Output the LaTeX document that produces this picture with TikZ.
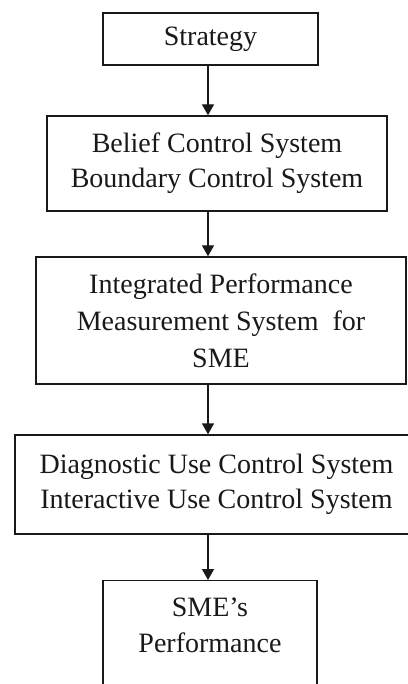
\documentclass[tikz,border=0pt]{standalone}
\usepackage{fontspec}
\setmainfont{Liberation Serif}
\usetikzlibrary{arrows.meta}
\tikzset{
  box/.style={draw=black!90, line width=1.4pt, rectangle, inner sep=0pt, align=center,
    font=\fontsize{28}{35}\selectfont, text=black!90},
  txt/.style={inner sep=0pt, align=center, font=\fontsize{28}{36}\selectfont, text=black!90},
  arr/.style={line width=1.4pt, draw=black!90, -{Triangle[width=12pt,length=11pt]}}
}
\begin{document}
\begin{tikzpicture}[x=1pt,y=-1pt]
\useasboundingbox (0,0) rectangle (407,684);
\fill[white] (0,0) rectangle (407,684);
\coordinate (ax) at (208,0);
\node[box, minimum width=215pt, minimum height=52pt] (b1) at (210.5,39) {Strategy};
\node[box, minimum width=340pt, minimum height=95pt] (b2) at (217,163.5) {Belief Control System\\Boundary Control System};
\node[box, minimum width=370pt, minimum height=127pt, font=\fontsize{28}{37}\selectfont] (b3) at (221,320.5) {Integrated Performance\\Measurement System\ \ for\\SME};
\node[box, minimum width=403pt, minimum height=99pt] (b4) at (216.5,484.5) {Diagnostic Use Control System\\Interactive Use Control System};
\node[box, minimum width=214pt, minimum height=150pt, anchor=north] (b5) at (210,580) {};
\node[txt, anchor=center] (t5) at (210,625) {SME’s\\Performance};
\draw[arr] (b1.south -| ax) -- (b2.north -| ax);
\draw[arr] (b2.south -| ax) -- (b3.north -| ax);
\draw[arr] (b3.south -| ax) -- (b4.north -| ax);
\draw[arr] (b4.south -| ax) -- (b5.north -| ax);
\end{tikzpicture}
\end{document}
